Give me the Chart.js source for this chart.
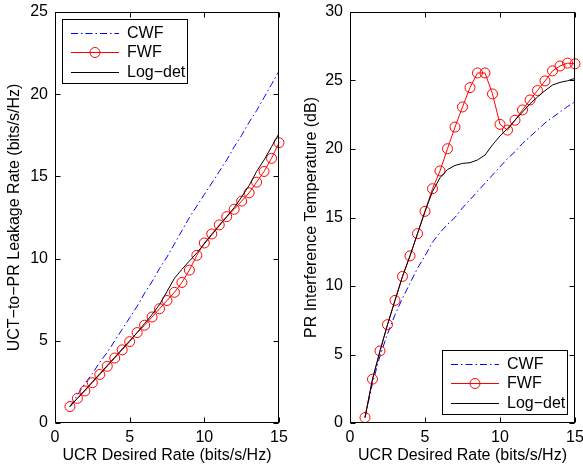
<!DOCTYPE html>
<html><head><meta charset="utf-8">
<script src="https://cdn.jsdelivr.net/npm/chart.js@4"></script>
<style>
html,body{margin:0;padding:0;background:#fff;}
#wrap{position:relative;width:583px;height:465px;overflow:hidden;background:#fff;}
canvas{position:absolute;top:0;}
</style></head><body>
<div id="wrap">
<canvas id="c1" width="290" height="465" style="left:0px"></canvas>
<canvas id="c2" width="293" height="465" style="left:290px"></canvas>
</div>
<script>
// ---- data ----
const rates = [1,1.5,2,2.5,3,3.5,4,4.5,5,5.5,6,6.5,7,7.5,8,8.5,9,9.5,10,10.5,11,11.5,12,12.5,13,13.5,14,14.5,15];
const seriesNames = ['CWF', 'FWF', 'Log\u2212det'];

const leakCWF    = [1.0,1.7,2.4,3.0,3.7,4.3,5.0,5.7,6.4,7.1,7.9,8.6,9.4,10.1,10.9,11.7,12.5,13.2,13.9,14.6,15.3,16.0,16.8,17.5,18.3,19.0,19.8,20.6,21.4];
const leakFWF    = [1.0,1.5,1.95,2.45,2.95,3.45,3.95,4.45,4.95,5.5,5.95,6.45,6.95,7.45,7.95,8.55,9.3,10.2,10.95,11.5,12.05,12.55,13.0,13.5,14.0,14.65,15.3,16.1,17.05];
const leakLogdet = [1.0,1.5,2.0,2.5,3.0,3.5,4.0,4.5,5.0,5.5,6.05,6.6,7.2,8.0,8.8,9.35,9.85,10.35,10.9,11.45,12.0,12.55,13.1,13.75,14.45,15.3,16.0,16.8,17.6];

const tempCWF    = [0.4,2.9,4.9,6.5,7.9,9.1,10.2,11.3,12.2,13.2,13.9,14.5,15.0,15.7,16.3,16.9,17.5,18.1,18.7,19.3,19.8,20.4,20.9,21.4,21.9,22.3,22.7,23.1,23.45];
const tempFWF    = [0.4,3.2,5.26,7.18,8.95,10.7,12.2,13.82,15.45,17.1,18.4,20.02,21.6,23.07,24.48,25.55,25.55,24.02,21.8,21.38,22.1,22.85,23.58,24.27,24.97,25.7,26.06,26.27,26.22];
const tempLogdet = [0.4,3.2,5.26,7.18,8.95,10.7,12.2,13.82,15.45,16.9,17.9,18.5,18.8,18.95,19.0,19.2,19.56,20.3,20.95,21.5,22.1,22.7,23.3,23.8,24.26,24.67,24.86,24.98,25.16];

const xTicks = [0,5,10,15];
const leakTicks = [0,5,10,15,20,25];
const tempTicks = [0,5,10,15,20,25,30];

const xTitle = 'UCR Desired Rate (bits/s/Hz)';
const leakTitle = 'UCT\u2212to\u2212PR Leakage Rate (bits/s/Hz)';
const tempTitle = 'PR Interference Temperature (dB)';

// ---- setup ----
Chart.defaults.font.family = "'Liberation Sans', Arial, sans-serif";
Chart.defaults.font.size = 16;
Chart.defaults.color = '#000';

function pts(ys){ return rates.map((x,i)=>({x:x, y:ys[i]})); }

function makeDatasets(c, f, l){
  return [
    {label: seriesNames[0], data: pts(c), borderColor:'#0000ff', borderWidth:1, borderDash:[7,3,1.5,3],
     pointRadius:0, showLine:true, order:2, tension:0},
    {label: seriesNames[1], data: pts(f), borderColor:'#ff0000', borderWidth:1,
     pointRadius:5, pointBorderWidth:1, pointBorderColor:'#ff0000', pointBackgroundColor:'rgba(0,0,0,0)',
     showLine:true, order:1, tension:0, clip:false},
    {label: seriesNames[2], data: pts(l), borderColor:'#000000', borderWidth:1,
     pointRadius:0, showLine:true, order:0, tension:0}
  ];
}

const framePlugin = {
  id: 'frame',
  afterDraw(chart, args, opts){
    const ctx = chart.ctx, a = chart.chartArea;
    const xs = chart.scales.x, ys = chart.scales.y;
    const L = Math.round(a.left)+0.5, R = Math.round(a.right)-0.5, T = Math.round(a.top)+0.5, B = Math.round(a.bottom)-0.5;
    ctx.save();
    ctx.strokeStyle = '#000'; ctx.lineWidth = 1;
    ctx.strokeRect(L, T, R-L, B-T);
    ctx.beginPath();
    const tl = 5;
    xTicks.forEach(v => {
      const p = Math.round(xs.getPixelForValue(v)) + 0.5;
      ctx.moveTo(p, B); ctx.lineTo(p, B - tl);
      ctx.moveTo(p, T); ctx.lineTo(p, T + tl);
    });
    opts.yt.forEach(v => {
      const p = Math.round(ys.getPixelForValue(v)) + 0.5;
      ctx.moveTo(L, p); ctx.lineTo(L + tl, p);
      ctx.moveTo(R, p); ctx.lineTo(R - tl, p);
    });
    ctx.stroke();

    // legend
    const w = 125, h = 64;
    let bx, by;
    if (opts.legendPos === 'nw') { bx = Math.round(a.left) + 7; by = Math.round(a.top) + 7; }
    else { bx = Math.round(a.right) - 8 - w; by = Math.round(a.bottom) - 9 - h; }
    ctx.fillStyle = '#fff';
    ctx.fillRect(bx, by, w, h);
    ctx.strokeStyle = '#000';
    ctx.strokeRect(bx + 0.5, by + 0.5, w, h);
    ctx.font = "16px 'Liberation Sans', Arial, sans-serif";
    ctx.textBaseline = 'middle';
    ctx.textAlign = 'left';
    chart.data.datasets.forEach((ds, i) => {
      const yy = by + 13.5 + i * 19.5;
      const ry = Math.round(yy) + 0.5;
      ctx.save();
      ctx.strokeStyle = ds.borderColor; ctx.lineWidth = 1;
      ctx.setLineDash(ds.borderDash || []);
      ctx.beginPath(); ctx.moveTo(bx + 9, ry); ctx.lineTo(bx + 57, ry); ctx.stroke();
      ctx.setLineDash([]);
      if (ds.pointRadius > 0) {
        ctx.beginPath(); ctx.arc(bx + 33, ry, ds.pointRadius, 0, Math.PI*2); ctx.stroke();
      }
      ctx.restore();
      ctx.fillStyle = '#000';
      ctx.fillText(ds.label, bx + 65, yy + 1);
    });
    ctx.restore();
  }
};

function makeChart(id, datasets, yMax, yt, yTitle, yWidth, yTitlePad, rightPad, legendPos){
  return new Chart(document.getElementById(id), {
    type: 'scatter',
    data: { datasets },
    options: {
      responsive: false, animation: false, devicePixelRatio: 1,
      layout: { padding: { left: 0, right: rightPad, top: 12, bottom: 0 } },
      plugins: { legend: { display: false }, tooltip: { enabled: false },
                 frame: { yt: yt, legendPos: legendPos } },
      scales: {
        x: { type: 'linear', min: 0, max: 15,
             grid: { display: false, drawTicks: false }, border: { display: false },
             ticks: { stepSize: 5, maxRotation: 0, autoSkip: false, padding: 5, color: '#000' },
             title: { display: true, text: xTitle, color: '#000', padding: { top: 0, bottom: 0 } },
             afterFit: s => { s.height = 42; s.paddingRight = 0; s.paddingLeft = 0; } },
        y: { type: 'linear', min: 0, max: yMax,
             grid: { display: false, drawTicks: false }, border: { display: false },
             ticks: { stepSize: 5, autoSkip: false, padding: 7, color: '#000' },
             title: { display: true, text: yTitle, color: '#000', padding: { top: yTitlePad, bottom: 0 } },
             afterFit: s => { s.width = yWidth; s.paddingTop = 0; s.paddingBottom = 0; } }
      }
    },
    plugins: [framePlugin]
  });
}

makeChart('c1', makeDatasets(leakCWF, leakFWF, leakLogdet), 25, leakTicks, leakTitle, 55, 5, 11, 'nw');
makeChart('c2', makeDatasets(tempCWF, tempFWF, tempLogdet), 30, tempTicks, tempTitle, 60, 12, 8, 'se');
</script>
</body></html>
